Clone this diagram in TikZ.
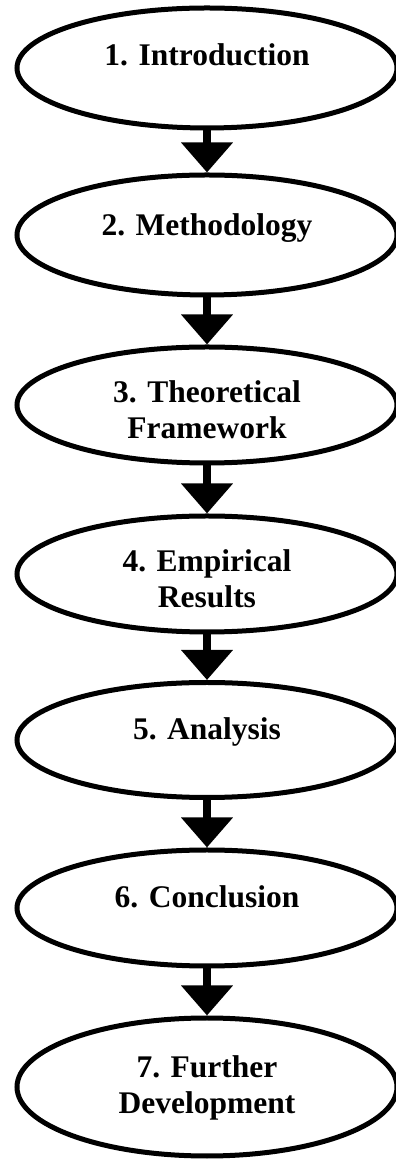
\documentclass[tikz,border=0pt]{standalone}
\usepackage{fontspec}
\setmainfont{Liberation Serif}
\usetikzlibrary{shapes.geometric,arrows.meta}
\begin{document}
\begin{tikzpicture}[x=1pt,y=1pt,
  stage/.style={draw,ellipse,line width=5pt,minimum width=380pt,inner sep=0pt},
  stagetext/.style={font=\bfseries\fontsize{31.5}{36}\selectfont,align=center,inner sep=0pt,anchor=base},
  flow/.style={line width=8pt,-{Triangle[width=50pt,length=30pt]}}]
  \useasboundingbox (0,0) rectangle (396,1160);
  \node[stage,minimum height=120pt] (s1) at (207,1092) {};
  \node[stage,minimum height=120pt] (s2) at (207,925) {};
  \node[stage,minimum height=116pt] (s3) at (207,755) {};
  \node[stage,minimum height=116pt] (s4) at (207,586) {};
  \node[stage,minimum height=115pt] (s5) at (207,420) {};
  \node[stage,minimum height=116pt] (s6) at (207,252) {};
  \node[stage,minimum height=138pt] (s7) at (207,73) {};
  % two-line labels sit on the baseline of their last line
  \node[stagetext] (t1) at (207,1094) {1. Introduction};
  \node[stagetext] (t2) at (207,924) {2. Methodology};
  \node[stagetext] (t3) at (207,721) {3. Theoretical\\Framework};
  \node[stagetext] (t4) at (207,552) {4. Empirical\\Results};
  \node[stagetext] (t5) at (207,420) {5. Analysis};
  \node[stagetext] (t6) at (207,252) {6. Conclusion};
  \node[stagetext] (t7) at (207,46) {7. Further\\Development};
  \draw[flow] (s1.south) -- (s2.north);
  \draw[flow] (s2.south) -- (s3.north);
  \draw[flow] (s3.south) -- (s4.north);
  \draw[flow] (s4.south) -- (s5.north);
  \draw[flow] (s5.south) -- (s6.north);
  \draw[flow] (s6.south) -- (s7.north);
\end{tikzpicture}
\end{document}
